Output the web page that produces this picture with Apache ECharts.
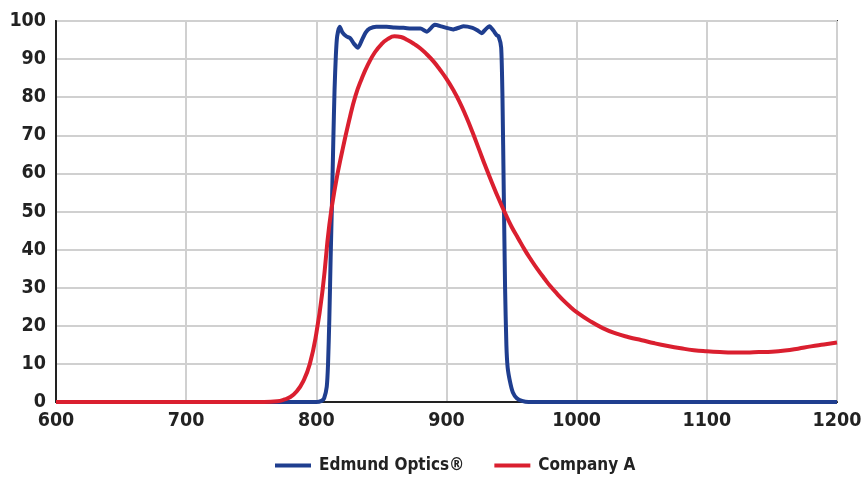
<!DOCTYPE html>
<html>
<head>
<meta charset="utf-8">
<script src="https://cdn.jsdelivr.net/npm/echarts@6/dist/echarts.min.js"></script>
<style>
html,body{margin:0;padding:0;background:#fff;}
#chart{width:861px;height:487px;}
</style>
</head>
<body>
<div id="chart"></div>
<script>
var seriesNames = ['Edmund Optics®', 'Company A'];
var xTicks = [600, 700, 800, 900, 1000, 1100, 1200];
var yTicks = [0, 10, 20, 30, 40, 50, 60, 70, 80, 90, 100];

var edmundWavelength = [600,700,790,800,804,806,808,809,810,811,812,813,814,815,816,818,820,823,826,829,832,835,838,841,846,854,860,867,875,880,885,891,896,900,905,910,913,920,924,927,930,933,936,938.5,940,942,943,944,945,946,947,949,951,954,958,963,1000,1100,1200];
var edmundValues =     [0,0,0,0,0.3,1,4,10,22,38,52,68,82,91,96,98.5,97,96,95.5,94,93,95,97,98,98.5,98.5,98.3,98.2,98,98,97.2,99,98.6,98.2,97.8,98.3,98.6,98.2,97.5,96.8,97.8,98.6,97.5,96.3,96,93,80,55,30,15,9,5,2.5,1,0.3,0,0,0,0];

var companyWavelength = [600,700,760,770,775,780,785,790,795,800,805,810,815,820,825,830,835,840,845,850,855,860,865,870,875,880,885,890,895,900,905,910,915,920,925,930,935,940,945,950,955,960,965,970,975,980,985,990,995,1000,1010,1020,1030,1040,1050,1060,1070,1080,1090,1100,1110,1120,1130,1140,1150,1160,1170,1180,1190,1200];
var companyValues =     [0,0,0,0.2,0.6,1.3,2.8,5.5,10,18,30,46.5,57.5,66,73.6,80.3,85,88.8,91.8,93.9,95.3,96,95.8,95,94,92.8,91.2,89.4,87.2,84.8,82,78.8,75,70.8,66.3,61.8,57.5,53.4,49.6,46,43,40,37.3,34.8,32.5,30.3,28.4,26.6,25,23.6,21.3,19.4,18,17,16.2,15.4,14.7,14.1,13.6,13.3,13.1,13,13,13.1,13.2,13.5,14,14.6,15.1,15.6];

function pairs(xs, ys){ return xs.map(function(x,i){ return [x, ys[i]]; }); }

var font = "'DejaVu Sans Condensed', 'DejaVu Sans', sans-serif";
var chart = echarts.init(document.getElementById('chart'));
chart.setOption({
  animation: false,
  backgroundColor: '#ffffff',
  grid: { left: 56, right: 24, top: 21, bottom: 85, show: true, borderColor: '#3a3a3a', borderWidth: 2, containLabel: false, outerBoundsMode: 'none' },
  legend: {
    bottom: 8,
    left: 270,
    itemWidth: 36,
    itemHeight: 4,
    itemGap: 30,
    icon: 'rect',
    textStyle: { fontFamily: font, fontSize: 17, fontWeight: 'bold', color: '#222', padding: [0,0,0,3] },
    data: seriesNames
  },
  xAxis: {
    type: 'value', min: 600, max: 1200, interval: 100,
    axisLine: { show: true, lineStyle: { color: '#222', width: 2 } },
    axisTick: { show: false },
    splitLine: { show: true, lineStyle: { color: '#d0d0d0', width: 2 } },
    axisLabel: { fontFamily: font, fontSize: 19.5, fontWeight: 'bold', color: '#222', margin: 9,
      formatter: function(v){ return xTicks.indexOf(v) >= 0 ? String(v) : ''; } }
  },
  yAxis: {
    type: 'value', min: 0, max: 100, interval: 10,
    axisLine: { show: true, lineStyle: { color: '#222', width: 2 } },
    axisTick: { show: false },
    splitLine: { show: true, lineStyle: { color: '#d0d0d0', width: 2 } },
    axisLabel: { fontFamily: font, fontSize: 19.5, fontWeight: 'bold', color: '#222', margin: 10,
      formatter: function(v){ return yTicks.indexOf(v) >= 0 ? String(v) : ''; } }
  },
  series: [
    { name: seriesNames[0], type: 'line', showSymbol: false, symbol: 'none', smooth: 0.2,
      data: pairs(edmundWavelength, edmundValues), z: 3,
      itemStyle: { color: '#1f3e8f' }, lineStyle: { color: '#1f3e8f', width: 4 } },
    { name: seriesNames[1], type: 'line', showSymbol: false, symbol: 'none', smooth: 0.5,
      data: pairs(companyWavelength, companyValues), z: 4,
      itemStyle: { color: '#da1f2f' }, lineStyle: { color: '#da1f2f', width: 4 } }
  ]
});
</script>
</body>
</html>
